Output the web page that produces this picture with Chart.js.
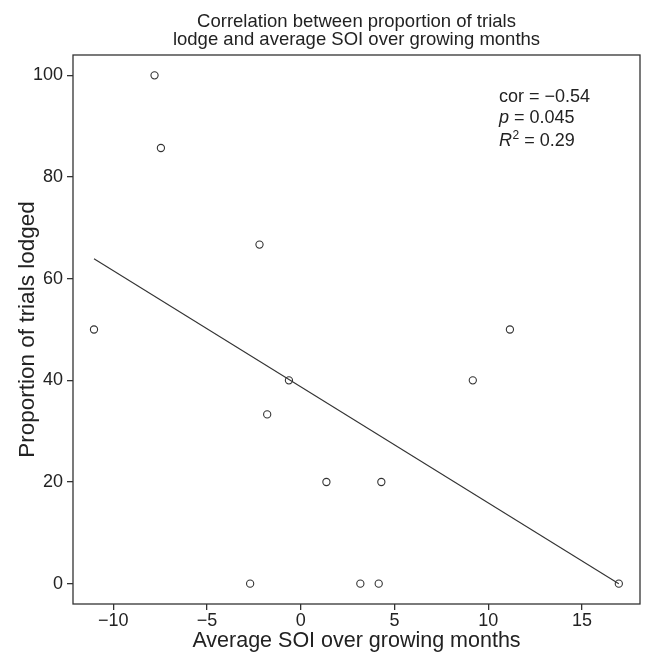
<!DOCTYPE html>
<html>
<head>
<meta charset="utf-8">
<script src="https://cdn.jsdelivr.net/npm/chart.js@4/dist/chart.umd.min.js"></script>
<style>
  html, body { margin: 0; padding: 0; background: #fff; }
  #wrap { width: 645px; height: 653px; }
</style>
</head>
<body>
<div id="wrap"><canvas id="soi_chart"></canvas></div>
<script>
// values
const soi_values = [-7.8, -7.46, -11.03, -2.2, -0.63, -1.79, 1.37, 4.3, -2.7, 3.18, 4.16, 9.18, 11.16, 16.97];
const lodged_values = [100, 85.7, 50, 66.7, 40, 33.3, 20, 20, 0, 0, 0, 40, 50, 0];
// fitted line end points
const fit_x = [-11.03, 16.97];
const fit_y = [63.9, 0];
const x_ticks = [-10, -5, 0, 5, 10, 15];
const y_ticks = [0, 20, 40, 60, 80, 100];
const title_lines = ["Correlation between proportion of trials", "lodge and average SOI over growing months"];

const fontName = "'Liberation Sans', Arial, Helvetica, sans-serif";
const ink = "#333";

var points = soi_values.map((v, i) => ({ x: v, y: lodged_values[i] }));
var fitLine = fit_x.map((v, i) => ({ x: v, y: fit_y[i] }));

// box round plot, title and stats text
const extras = {
    id: 'extras',
    afterDraw(chart) {
        const ctx = chart.ctx;
        const a = chart.chartArea;
        ctx.save();
        ctx.strokeStyle = ink;
        ctx.lineWidth = 1.3;
        ctx.strokeRect(a.left, a.top, a.right - a.left, a.bottom - a.top);

        ctx.fillStyle = "#222";
        ctx.textAlign = 'center';
        ctx.textBaseline = 'alphabetic';
        ctx.font = "18.5px " + fontName;
        let cx = (a.left + a.right) / 2;
        ctx.fillText(title_lines[0], cx, 27);
        ctx.fillText(title_lines[1], cx, 45);

        // stats
        ctx.textAlign = 'left';
        let tx = 499;
        ctx.font = "18px " + fontName;
        ctx.fillText("cor = \u22120.54", tx, 102);
        ctx.font = "italic 18px " + fontName;
        ctx.fillText("p", tx, 123);
        let w = ctx.measureText("p").width;
        ctx.font = "18px " + fontName;
        ctx.fillText(" = 0.045", tx + w, 123);
        ctx.font = "italic 18px " + fontName;
        ctx.fillText("R", tx, 146);
        w = ctx.measureText("R").width;
        ctx.font = "12px " + fontName;
        ctx.fillText("2", tx + w + 0.5, 139);
        let w2 = ctx.measureText("2").width;
        ctx.font = "18px " + fontName;
        ctx.fillText(" = 0.29", tx + w + w2 + 0.5, 146);
        ctx.restore();
    }
};

function minusSign(v) {
    return String(v).replace('-', '\u2212');
}

let soi_chart = new Chart(document.getElementById('soi_chart'), {
    type: 'scatter',
    data: {
        datasets: [
            {
                label: 'trials',
                data: points,
                showLine: false,
                pointRadius: 3.6,
                pointBorderWidth: 1.1,
                pointBorderColor: ink,
                pointBackgroundColor: 'rgba(255,255,255,0)',
                pointHoverRadius: 3.6
            },
            {
                label: 'fit',
                data: fitLine,
                showLine: true,
                borderColor: ink,
                borderWidth: 1.1,
                pointRadius: 0,
                fill: false
            }
        ]
    },
    options: {
        responsive: true,
        maintainAspectRatio: false,
        animation: false,
        events: [],
        layout: { padding: { top: 55, right: 5, left: 0, bottom: 0 } },
        plugins: {
            legend: { display: false },
            title: { display: false },
            tooltip: { enabled: false }
        },
        scales: {
            x: {
                type: 'linear',
                min: -12.15,
                max: 18.1,
                afterFit: (scale) => { scale.height = 49; },
                afterBuildTicks: (scale) => { scale.ticks = x_ticks.map(v => ({ value: v })); },
                grid: { drawOnChartArea: false, drawTicks: true, tickLength: 6, color: ink, lineWidth: 1.3 },
                border: { display: false },
                ticks: {
                    color: '#222',
                    font: { family: fontName, size: 18 },
                    padding: 0,
                    maxRotation: 0,
                    callback: (v) => minusSign(v)
                },
                title: {
                    display: true,
                    text: 'Average SOI over growing months',
                    color: '#222',
                    font: { family: fontName, size: 21.5 },
                    padding: { top: 0, bottom: -1 }
                }
            },
            y: {
                type: 'linear',
                min: -4,
                max: 104,
                afterFit: (scale) => { scale.width = 73; },
                afterBuildTicks: (scale) => { scale.ticks = y_ticks.map(v => ({ value: v })); },
                grid: { drawOnChartArea: false, drawTicks: true, tickLength: 6, color: ink, lineWidth: 1.3 },
                border: { display: false },
                ticks: {
                    color: '#222',
                    font: { family: fontName, size: 18 },
                    padding: 4,
                    callback: (v) => minusSign(v)
                },
                title: {
                    display: true,
                    text: 'Proportion of trials lodged',
                    color: '#222',
                    font: { family: fontName, size: 22.5 },
                    padding: { top: 14, bottom: 0 }
                }
            }
        }
    },
    plugins: [extras]
});
</script>
</body>
</html>
